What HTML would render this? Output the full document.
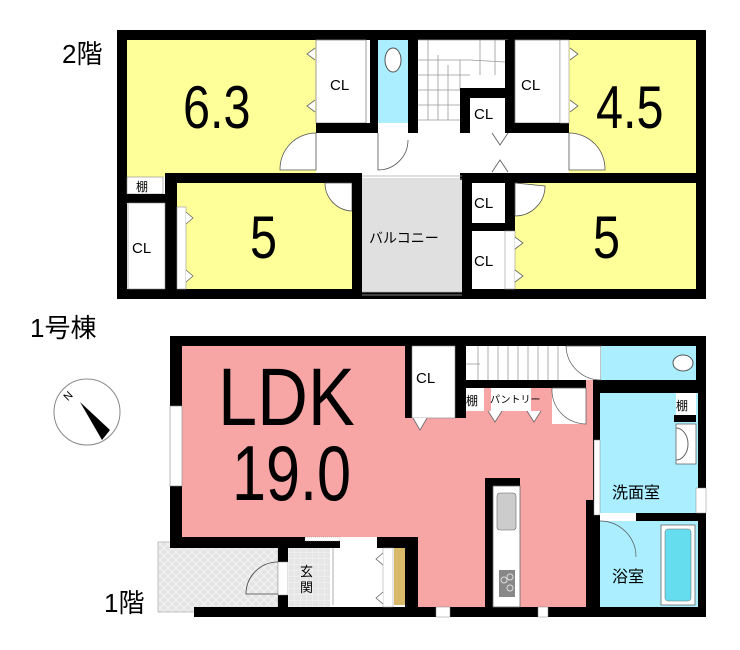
<!DOCTYPE html>
<html><head><meta charset="utf-8"><style>
html,body{margin:0;padding:0;background:#fff}
svg{display:block}
text{font-family:"Liberation Sans","Noto Sans CJK JP",sans-serif}
</style></head><body>
<svg width="740" height="650" viewBox="0 0 740 650" xmlns="http://www.w3.org/2000/svg">
<defs>
<pattern id="hatch" width="8" height="8" patternUnits="userSpaceOnUse">
<rect width="8" height="8" fill="#e4e4e4"/><path d="M0 0L8 8M8 0L0 8" stroke="#f4f4f4" stroke-width="1"/>
</pattern>
<pattern id="tile" width="6" height="6" patternUnits="userSpaceOnUse">
<rect width="6" height="6" fill="#e6e6e6"/><path d="M0 0H6M0 0V6" stroke="#f6f6f6" stroke-width="1"/>
</pattern>
</defs>
<!-- labels -->
<text x="62" y="63" font-size="26">2階</text>
<text x="30" y="337" font-size="26">1号棟</text>
<text x="104" y="612" font-size="26">1階</text>

<!-- ===== 2F ===== -->
<rect x="117" y="30" width="589" height="269" fill="#000"/>
<rect x="127" y="40" width="569" height="249" fill="#fff"/>
<rect x="127" y="40" width="189" height="137" fill="#ffff99"/>
<rect x="316" y="40" width="50" height="83" fill="#fff" stroke="#888" stroke-width="0.8"/>
<text x="330" y="90" font-size="15">CL</text>
<rect x="316" y="123" width="62" height="10" fill="#000"/>
<rect x="370" y="40" width="8" height="93" fill="#000"/>
<rect x="378" y="40" width="30" height="83" fill="#aaeeff"/>
<ellipse cx="393" cy="60" rx="8" ry="12" fill="#fff" stroke="#555"/>
<rect x="408" y="40" width="10" height="93" fill="#000"/>
<g stroke="#999" stroke-width="0.8" fill="none">
<path d="M418 40H508M428 40V120M438 55V120M448 65V120M418 60H470M418 75H470M418 90H460M418 105H460M418 120H460M460 60V90M480 40V75M495 40V75M470 60L505 62"/>
</g>
<rect x="460" y="88" width="48" height="10" fill="#000"/>
<rect x="460" y="88" width="10" height="45" fill="#000"/>
<rect x="470" y="98" width="35" height="28" fill="#fff"/>
<text x="474" y="119" font-size="15">CL</text>
<rect x="505" y="40" width="10" height="93" fill="#000"/>
<rect x="515" y="40" width="45" height="83" fill="#fff" stroke="#888" stroke-width="0.8"/>
<text x="521" y="90" font-size="15">CL</text>
<rect x="515" y="123" width="54" height="10" fill="#000"/>
<rect x="569" y="40" width="127" height="133" fill="#ffff99"/>
<rect x="560" y="40" width="9" height="83" fill="#fff" stroke="#999" stroke-width="0.6"/>
<rect x="316" y="133" width="253" height="40" fill="#fff"/>
<path d="M316 133A36 36 0 0 0 280 170H316Z" fill="#fff" stroke="#555" stroke-width="0.8"/>
<path d="M569 133A36 36 0 0 1 605 170H569Z" fill="#fff" stroke="#555" stroke-width="0.8"/>
<path d="M378 133V170A30 30 0 0 0 408 140" fill="none" stroke="#555" stroke-width="0.8"/>
<path d="M492 133L500 145L508 133M492 172L500 160L508 172" fill="none" stroke="#555" stroke-width="0.8"/>
<g fill="#fff" stroke="#666" stroke-width="0.8">
<path d="M315 48L307 54L315 60M315 100L307 106L315 112M570 48L578 54L570 60M570 100L578 106L570 112"/>
</g>
<rect x="165" y="173" width="197" height="10" fill="#000"/>
<rect x="460" y="173" width="246" height="10" fill="#000"/>
<rect x="165" y="173" width="12" height="116" fill="#000"/>
<rect x="127" y="177" width="36" height="17" fill="#fff" stroke="#888" stroke-width="0.6"/>
<text x="136" y="191" font-size="12">棚</text>
<rect x="127" y="194" width="40" height="9" fill="#000"/>
<rect x="128" y="203" width="37" height="86" fill="#fff" stroke="#888" stroke-width="0.6"/>
<text x="132" y="253" font-size="15">CL</text>
<rect x="177" y="183" width="175" height="106" fill="#ffff99"/>
<rect x="177" y="207" width="9" height="82" fill="#fff" stroke="#999" stroke-width="0.6"/>
<path d="M186 212L193 218L186 224M186 270L193 276L186 282" fill="#fff" stroke="#666" stroke-width="0.8"/>
<path d="M325 183A28 28 0 0 0 352 211V183Z" fill="#fff" stroke="#555" stroke-width="0.8"/>
<rect x="352" y="173" width="10" height="126" fill="#000"/>
<rect x="362" y="180" width="100" height="112" fill="#e0e0e0"/>
<path d="M362 176H462M362 179H462M362 292H462M362 295H462" stroke="#aaa" stroke-width="0.7"/>
<text x="369" y="243" font-size="14">バルコニー</text>
<rect x="462" y="173" width="10" height="126" fill="#000"/>
<rect x="472" y="183" width="33" height="40" fill="#fff"/>
<text x="474" y="208" font-size="15">CL</text>
<rect x="472" y="223" width="40" height="8" fill="#000"/>
<rect x="505" y="173" width="10" height="58" fill="#000"/>
<rect x="472" y="231" width="33" height="58" fill="#fff"/>
<text x="474" y="266" font-size="15">CL</text>
<rect x="515" y="183" width="181" height="106" fill="#ffff99"/>
<rect x="505" y="231" width="10" height="58" fill="#fff" stroke="#999" stroke-width="0.6"/>
<path d="M515 237L523 243L515 249M515 270L523 276L515 282" fill="#fff" stroke="#666" stroke-width="0.8"/>
<path d="M515 183V216A30 30 0 0 0 545 186Z" fill="#fff" stroke="#555" stroke-width="0.8"/>
<text x="183" y="128" font-size="54" transform="translate(183 128) scale(0.9 1.12) translate(-183 -128)">6.3</text>
<text x="596" y="128" font-size="54" transform="translate(596 128) scale(0.9 1.12) translate(-596 -128)">4.5</text>
<text x="250" y="258" font-size="54" transform="translate(250 258) scale(0.9 1.12) translate(-250 -258)">5</text>
<text x="593" y="258" font-size="54" transform="translate(593 258) scale(0.9 1.12) translate(-593 -258)">5</text>

<!-- compass -->
<circle cx="87" cy="412" r="33" fill="#fff" stroke="#888" stroke-width="1"/>
<path d="M80 402L110 430L102 440Z" fill="#000"/>
<text x="64" y="398" font-size="11" transform="rotate(-45 70 395)">N</text>

<!-- ===== 1F ===== -->
<rect x="158" y="542" width="120" height="70" fill="url(#hatch)" stroke="#aaa" stroke-width="0.7"/>
<rect x="170" y="336" width="536" height="212" fill="#000"/>
<rect x="405" y="336" width="301" height="281" fill="#000"/>
<rect x="194" y="607" width="512" height="10" fill="#000"/>
<path d="M182 346H405V418H458V380H593V500H565V488H586V607H520V478H485V607H418V537H182Z" fill="#f7a5a5"/>
<rect x="418" y="537" width="67" height="70" fill="#f7a5a5"/>
<rect x="520" y="488" width="66" height="119" fill="#f7a5a5"/>
<rect x="170" y="406" width="12" height="80" fill="#fff" stroke="#888" stroke-width="0.6"/>
<rect x="412" y="346" width="43" height="72" fill="#fff" stroke="#888" stroke-width="0.6"/>
<text x="416" y="383" font-size="15">CL</text>
<rect x="458" y="346" width="8" height="72" fill="#000"/>
<rect x="466" y="346" width="100" height="34" fill="#fff"/>
<g stroke="#999" stroke-width="0.8"><path d="M478 346V380M488 346V380M498 346V380M508 346V380M518 346V380M528 346V380M538 346V380M548 346V380M558 346V380M466 364H480"/></g>
<rect x="466" y="380" width="120" height="8" fill="#000"/>
<rect x="466" y="388" width="18" height="23" fill="#fff"/>
<text x="466" y="405" font-size="12">棚</text>
<rect x="491" y="388" width="40" height="23" fill="#fff"/>
<text x="490" y="403" font-size="10">パントリー</text>
<path d="M413 418L420 430L427 418M488 411L495 422L502 411M527 411L534 422L541 411" fill="#fff" stroke="#666" stroke-width="0.8"/>
<rect x="566" y="346" width="35" height="34" fill="#fff"/>
<path d="M566 346A35 35 0 0 0 601 380V346Z" fill="#fff" stroke="#555" stroke-width="0.7"/>
<rect x="552" y="388" width="34" height="36" fill="#fff"/>
<path d="M552 388A34 34 0 0 0 586 424V388Z" fill="#fff" stroke="#555" stroke-width="0.7"/>
<rect x="601" y="346" width="95" height="34" fill="#aaeeff"/>
<ellipse cx="683" cy="363" rx="10" ry="8" fill="#fff" stroke="#555"/>
<rect x="600" y="393" width="98" height="120" fill="#aaeeff"/>
<rect x="676" y="393" width="20" height="22" fill="#fff"/>
<text x="676" y="410" font-size="12">棚</text>
<rect x="674" y="415" width="22" height="7" fill="#000"/>
<rect x="676" y="424" width="20" height="40" fill="#fff" stroke="#666" stroke-width="0.8"/>
<path d="M676 428A12 16 0 0 1 676 460" fill="none" stroke="#666"/>
<text x="612" y="498" font-size="16">洗面室</text>
<rect x="594" y="440" width="6" height="75" fill="#fff" stroke="#888" stroke-width="0.5"/>
<rect x="696" y="488" width="10" height="25" fill="#fff" stroke="#888" stroke-width="0.5"/>
<rect x="600" y="521" width="98" height="86" fill="#aaeeff"/>
<rect x="600" y="513" width="36" height="8" fill="#fff"/>
<path d="M600 521A36 36 0 0 1 636 557" fill="none" stroke="#555" stroke-width="0.7"/>
<rect x="661" y="525" width="34" height="80" fill="#fff" stroke="#666" stroke-width="0.8"/>
<rect x="665" y="529" width="26" height="72" rx="3" fill="#66ddee" stroke="#666" stroke-width="0.5"/>
<text x="612" y="582" font-size="16">浴室</text>
<rect x="493" y="486" width="27" height="121" fill="#fff" stroke="#666" stroke-width="0.8"/>
<rect x="497" y="493" width="19" height="37" rx="3" fill="#ccc" stroke="#666" stroke-width="0.6"/>
<rect x="499" y="570" width="16" height="27" fill="#888"/>
<circle cx="504" cy="580" r="3" fill="none" stroke="#ddd"/><circle cx="510" cy="577" r="3" fill="none" stroke="#ddd"/><circle cx="510" cy="588" r="3" fill="none" stroke="#ddd"/>
<rect x="436" y="607" width="14" height="10" fill="#fff" stroke="#888" stroke-width="0.5"/>
<rect x="538" y="607" width="10" height="10" fill="#fff" stroke="#888" stroke-width="0.5"/>
<rect x="278" y="548" width="127" height="59" fill="#fff"/>
<rect x="305" y="537" width="35" height="4" fill="#fff" stroke="#888" stroke-width="0.5" stroke-dasharray="1 1"/>
<rect x="340" y="537" width="37" height="11" fill="#fff"/>
<rect x="278" y="548" width="10" height="59" fill="#000"/>
<rect x="278" y="562" width="10" height="33" fill="#fff" stroke="#888" stroke-width="0.5"/>
<path d="M278 562A32 32 0 0 0 246 594H278" fill="none" stroke="#444" stroke-width="0.8"/>
<rect x="288" y="548" width="42" height="59" fill="url(#tile)"/>
<text x="300" y="576" font-size="13">玄</text>
<text x="300" y="592" font-size="13">関</text>
<line x1="333" y1="548" x2="333" y2="605" stroke="#888" stroke-width="0.7"/>
<rect x="383" y="548" width="10" height="59" fill="#fff" stroke="#999" stroke-width="0.5"/>
<path d="M383 553L376 559L383 565M383 592L376 598L383 604" fill="#fff" stroke="#666" stroke-width="0.8"/>
<rect x="394" y="548" width="11" height="57" fill="#d9b96a"/>
<text x="218" y="425" font-size="74" transform="translate(218 425) scale(0.95 1.1) translate(-218 -425)">LDK</text>
<text x="232" y="500" font-size="68" transform="translate(232 500) scale(0.9 1.15) translate(-232 -500)">19.0</text>
</svg>
</body></html>
